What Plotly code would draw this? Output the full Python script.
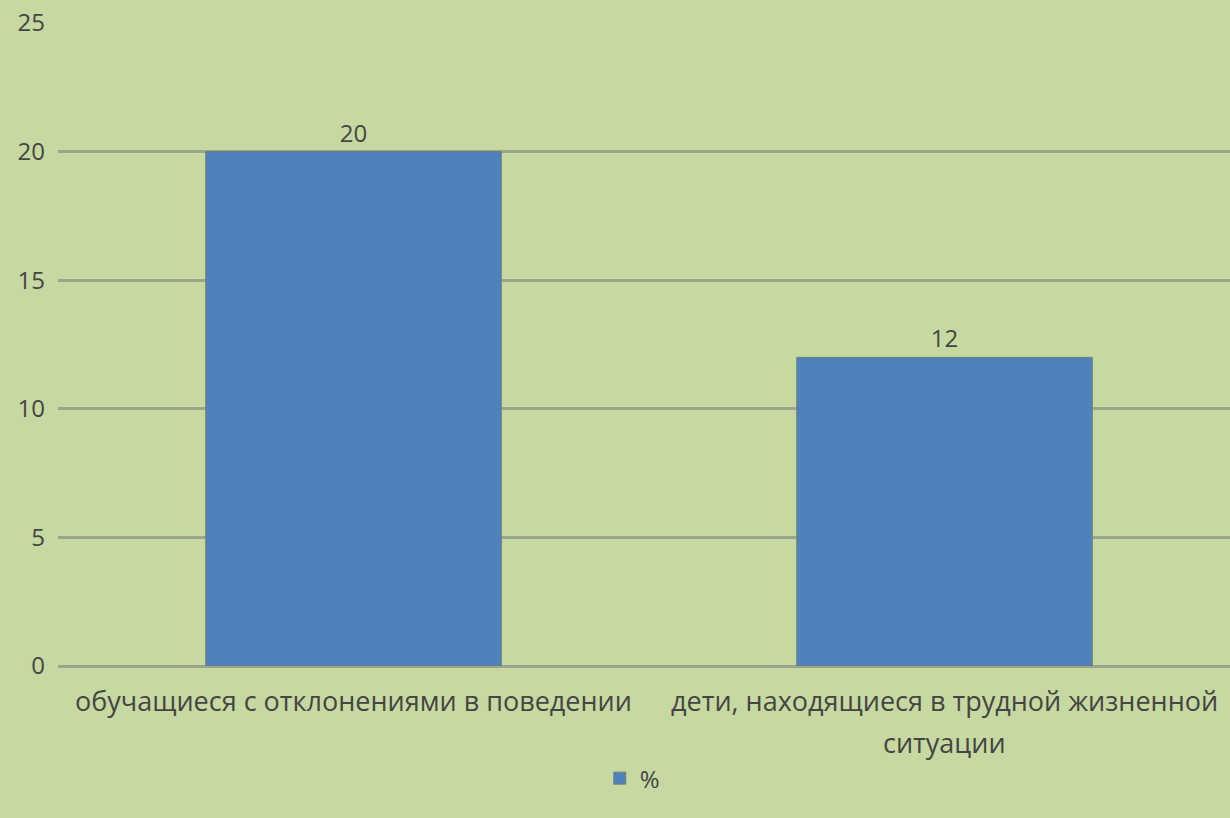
import plotly.graph_objects as go

categories = ["обучащиеся с отклонениями в поведении",
              "дети, находящиеся в трудной жизненной\nситуации"]
values = [20, 12]
series_name = "%"
y_ticks = [0, 5, 10, 15, 20, 25]

BG = "#C6D9A0"
BAR = "#4F81BD"
TXT = "#454545"
GRID = "#9CA48E"
FONT = "Open Sans"

fig = go.Figure()
fig.add_trace(go.Bar(
    x=categories, y=values, name=series_name,
    marker=dict(color=BAR, line=dict(color="#6E7F74", width=1)),
    text=[str(v) for v in values], textposition="outside",
    textfont=dict(size=24, color=TXT, family=FONT),
    cliponaxis=False,
))

annotations = []
for cat in categories:
    for i, line in enumerate(cat.split("\n")):
        annotations.append(dict(
            x=cat, y=0, xref="x", yref="y", text=line, showarrow=False,
            yanchor="middle", yshift=-34 - 42 * i,
            font=dict(size=27, color=TXT, family=FONT)))

fig.update_layout(
    width=1230, height=818,
    margin=dict(l=58, r=0, t=23, b=152),
    paper_bgcolor=BG, plot_bgcolor=BG,
    bargap=0.5,
    showlegend=True,
    legend=dict(orientation="h", x=0.49, xanchor="center", y=-0.175, yanchor="middle",
                font=dict(size=24, color=TXT, family=FONT), bgcolor="rgba(0,0,0,0)",
                itemwidth=30),
    annotations=annotations,
    font=dict(family=FONT, color=TXT),
)
fig.update_xaxes(range=[-0.5, 1.483], showticklabels=False, showgrid=False,
                 showline=False, zeroline=False, ticks="")
fig.update_yaxes(range=[0, 25], tickvals=y_ticks, showgrid=True, gridcolor=GRID,
                 gridwidth=2.5, zeroline=True, zerolinecolor=GRID, zerolinewidth=3,
                 tickfont=dict(size=24, color=TXT, family=FONT), ticks="",
                 ticklabelstandoff=12, showline=False)
fig.write_html("out.html", config={"displayModeBar": False},
               post_script="document.body.style.margin='0';document.body.style.background='#C6D9A0';")
